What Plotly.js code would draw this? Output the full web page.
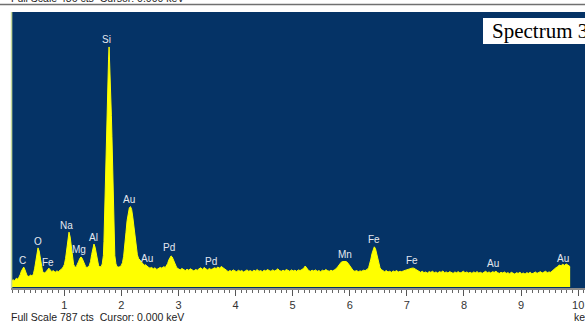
<!DOCTYPE html>
<html>
<head>
<meta charset="utf-8">
<script src="https://cdn.plot.ly/plotly-3.0.1.min.js"></script>
<style>
html,body{margin:0;padding:0;background:#fff;overflow:hidden;}
#chart{width:585px;height:323px;}
</style>
</head>
<body>
<div id="chart"></div>
<script>
// EDS spectrum: energy (keV) and counts
const energyKeV = [
0.07,0.10,0.13,0.16,0.19,0.21,0.23,0.25,0.27,0.29,
0.31,0.33,0.35,0.38,0.41,0.44,0.46,0.48,0.50,0.52,
0.54,0.56,0.58,0.60,0.62,0.65,0.68,0.71,0.73,0.75,
0.78,0.81,0.84,0.87,0.90,0.93,0.96,0.983,1.003,1.023,
1.043,1.063,1.083,1.103,1.123,1.143,1.163,1.183,1.20,1.213,
1.233,1.253,1.273,1.293,1.313,1.333,1.353,1.373,1.395,1.42,
1.44,1.46,1.48,1.50,1.52,1.54,1.56,1.58,1.60,1.62,
1.645,1.665,1.685,1.695,1.705,1.715,1.725,1.735,1.745,1.755,
1.765,1.775,1.785,1.795,1.805,1.815,1.825,1.835,1.845,1.855,
1.865,1.875,1.885,1.905,1.925,1.95,1.975,2.00,2.02,2.04,
2.06,2.08,2.10,2.12,2.14,2.16,2.18,2.20,2.22,2.24,
2.26,2.28,2.30,2.32,2.34,2.36,2.38,2.40,2.42,2.44,
2.47,2.50,2.53,2.56,2.59,2.62,2.65,2.68,2.71,2.74,
2.77,2.79,2.81,2.83,2.85,2.87,2.89,2.91,2.93,2.95,
2.97,3.00,3.03,3.06,3.09,3.12,3.15,3.18,3.21,3.24,
3.27,3.30,3.33,3.36,3.39,3.42,3.45,3.48,3.51,3.54,
3.57,3.60,3.63,3.66,3.69,3.72,3.75,3.78,3.81,3.84,
3.87,3.90,3.93,3.96,3.99,4.02,4.05,4.08,4.11,4.14,
4.17,4.20,4.23,4.26,4.29,4.32,4.35,4.38,4.41,4.44,
4.47,4.50,4.53,4.56,4.59,4.62,4.65,4.68,4.71,4.74,
4.77,4.80,4.83,4.86,4.89,4.92,4.95,4.98,5.01,5.04,
5.07,5.10,5.13,5.16,5.19,5.22,5.25,5.28,5.31,5.34,
5.37,5.40,5.43,5.46,5.49,5.52,5.55,5.58,5.61,5.64,
5.67,5.70,5.73,5.76,5.79,5.82,5.85,5.88,5.91,5.94,
5.97,6.00,6.03,6.06,6.09,6.12,6.15,6.18,6.21,6.24,
6.27,6.29,6.31,6.33,6.35,6.37,6.39,6.41,6.43,6.45,
6.47,6.49,6.51,6.53,6.55,6.58,6.61,6.64,6.67,6.70,
6.73,6.76,6.79,6.82,6.85,6.88,6.91,6.94,6.97,7.00,
7.03,7.06,7.09,7.12,7.15,7.18,7.21,7.24,7.27,7.30,
7.33,7.36,7.39,7.42,7.45,7.48,7.51,7.54,7.57,7.60,
7.63,7.66,7.69,7.72,7.75,7.78,7.81,7.84,7.87,7.90,
7.93,7.96,7.99,8.02,8.05,8.08,8.11,8.14,8.17,8.20,
8.23,8.26,8.29,8.32,8.35,8.38,8.41,8.44,8.47,8.50,
8.53,8.56,8.59,8.62,8.65,8.68,8.71,8.74,8.77,8.80,
8.83,8.86,8.89,8.92,8.95,8.98,9.01,9.04,9.07,9.10,
9.13,9.16,9.19,9.22,9.25,9.28,9.31,9.34,9.37,9.40,
9.43,9.46,9.49,9.52,9.55,9.58,9.61,9.64,9.67,9.70,
9.73,9.76,9.79,9.82,9.85,9.86
];
const counts = [
16,21,18,25,22,28,36,46,54,57,
50,39,32,30,34,31,38,52,75,100,
112,103,80,58,45,40,43,50,54,50,
44,47,42,46,44,49,52,58,65,82,
112,143,157,143,112,82,65,58,57,59,
65,74,82,86,82,74,65,59,56,57,
62,73,93,114,123,114,93,73,62,58,
58,66,90,130,200,290,370,430,490,545,
600,650,687,650,600,545,490,430,370,290,
200,130,90,66,58,57,58,62,70,88,
115,155,190,214,227,230,222,200,172,142,
112,92,82,78,74,68,66,62,64,60,
57,54,56,52,55,50,53,56,54,58,
56,60,67,77,86,89,86,77,67,60,
55,52,49,53,50,47,51,48,52,49,
46,50,48,52,55,50,56,52,49,53,
50,52,55,53,57,54,59,55,50,48,
44,47,45,49,46,44,48,45,47,43,
46,49,45,47,44,48,46,50,45,47,
44,48,46,50,47,45,49,46,48,52,
47,45,48,46,50,47,45,49,46,48,
45,49,47,50,53,60,52,47,45,48,
46,49,45,47,44,48,46,50,47,45,
48,46,49,52,58,65,71,73,74,73,
68,60,52,47,45,47,44,46,45,48,
47,48,51,55,65,80,96,110,115,110,
96,80,65,55,50,46,44,47,43,45,
42,46,44,47,43,45,44,46,48,49,
51,53,54,54,51,47,44,42,45,41,
43,40,44,42,45,41,43,40,44,42,
46,41,43,40,44,42,39,43,41,44,
40,42,45,41,43,40,42,39,43,41,
44,40,42,39,43,45,41,43,40,44,
42,45,41,39,42,40,43,39,41,38,
42,40,37,41,39,42,38,40,37,41,
39,42,38,40,43,39,41,44,40,42,
45,41,43,42,47,52,55,58,63,61,
65,62,66,63,60,58
];

// Peak labels
const peakNames  = ['C','O','Fe','Na','Mg','Al','Si','Au','Au','Pd','Pd','Mn','Fe','Fe','Au','Au'];
const peakLabelKeV = [0.271,0.539,0.720,1.042,1.263,1.508,1.743,2.133,2.443,2.839,3.569,5.916,6.429,7.084,8.513,9.739];
const peakLabelCts = [77,130,69,177,106,141,707,249,83,112,72,94,137,75,68,82];

// Axis ticks
const tickValues = [1,2,3,4,5,6,7,8,9,10];
const tickLabels = ['1','2','3','4','5','6','7','8','9','10'];

const spectrumName = 'Spectrum 3';
const fullScaleCts = 787;
const topFullScaleCts = 486;

const trace = {
  x: energyKeV, y: counts, type: 'scatter', mode: 'lines',
  fill: 'tozeroy', fillcolor: '#ffff00',
  line: {color: '#ffff00', width: 1}, hoverinfo: 'skip'
};

const labelFont = {family: 'Liberation Sans, Arial, sans-serif', size: 10, color: '#e4e8f0'};
const annotations = peakNames.map((n, i) => ({
  x: peakLabelKeV[i], y: peakLabelCts[i], xref: 'x', yref: 'y',
  text: n, showarrow: false, xanchor: 'center', yanchor: 'middle', font: labelFont
}));

annotations.push({
  xref: 'paper', yref: 'paper', x: 0.8345, y: 0.931, xanchor: 'left', yanchor: 'middle',
  text: spectrumName, showarrow: false,
  font: {family: 'Liberation Serif, Times New Roman, serif', size: 21, color: '#000'}
});
annotations.push({
  xref: 'paper', yref: 'paper', x: -0.0035, y: -0.105, xanchor: 'left', yanchor: 'middle',
  text: 'Full Scale ' + fullScaleCts + ' cts  Cursor: 0.000 keV', showarrow: false,
  font: {family: 'Liberation Sans, Arial, sans-serif', size: 10.5, color: '#222'}
});
annotations.push({
  xref: 'paper', yref: 'paper', x: 0.977, y: -0.105, xanchor: 'left', yanchor: 'middle',
  text: 'keV', showarrow: false,
  font: {family: 'Liberation Sans, Arial, sans-serif', size: 10.5, color: '#222'}
});
annotations.push({
  xref: 'paper', yref: 'paper', x: -0.0035, y: 1.0507, xanchor: 'left', yanchor: 'middle',
  text: 'Full Scale ' + topFullScaleCts + ' cts  Cursor: 0.000 keV', showarrow: false,
  font: {family: 'Liberation Sans, Arial, sans-serif', size: 10.5, color: '#222'}
});

const layout = {
  width: 585, height: 323,
  margin: {l: 11, r: 0, t: 12, b: 35, pad: 0},
  paper_bgcolor: '#ffffff', plot_bgcolor: '#053366',
  showlegend: false,
  xaxis: {
    range: [0.067, 10.12], tickmode: 'array', tickvals: tickValues, ticktext: tickLabels,
    ticks: 'outside', ticklen: 6, tickwidth: 1, tickcolor: '#555',
    showline: true, linecolor: '#8a8a8a', linewidth: 2, mirror: false,
    showgrid: false, zeroline: false, fixedrange: true,
    tickfont: {family: 'Liberation Sans, Arial, sans-serif', size: 11, color: '#333'},
    minor: {tickmode: 'linear', tick0: 0, dtick: 0.1, ticks: 'outside', ticklen: 3, tickcolor: '#666', showgrid: false}
  },
  yaxis: {
    range: [-2.86, 787], visible: false, showgrid: false, zeroline: false, fixedrange: true
  },
  shapes: [
    {type: 'rect', xref: 'paper', yref: 'paper', x0: 0.8223, x1: 1.05, y0: 0.884, y1: 0.978,
     fillcolor: '#ffffff', line: {width: 0}, layer: 'above'},
    {type: 'line', xref: 'paper', yref: 'paper', x0: 0.001, x1: 0.001, y0: 0, y1: 1,
     line: {color: '#c5d89a', width: 1.5}, layer: 'above'},
    {type: 'line', xref: 'paper', yref: 'paper', x0: -0.02, x1: 1.05, y0: 1.0272, y1: 1.0272,
     line: {color: '#707070', width: 1.5}}
  ],
  annotations: annotations
};

Plotly.newPlot('chart', [trace], layout, {displayModeBar: false, staticPlot: true});
</script>
</body>
</html>
